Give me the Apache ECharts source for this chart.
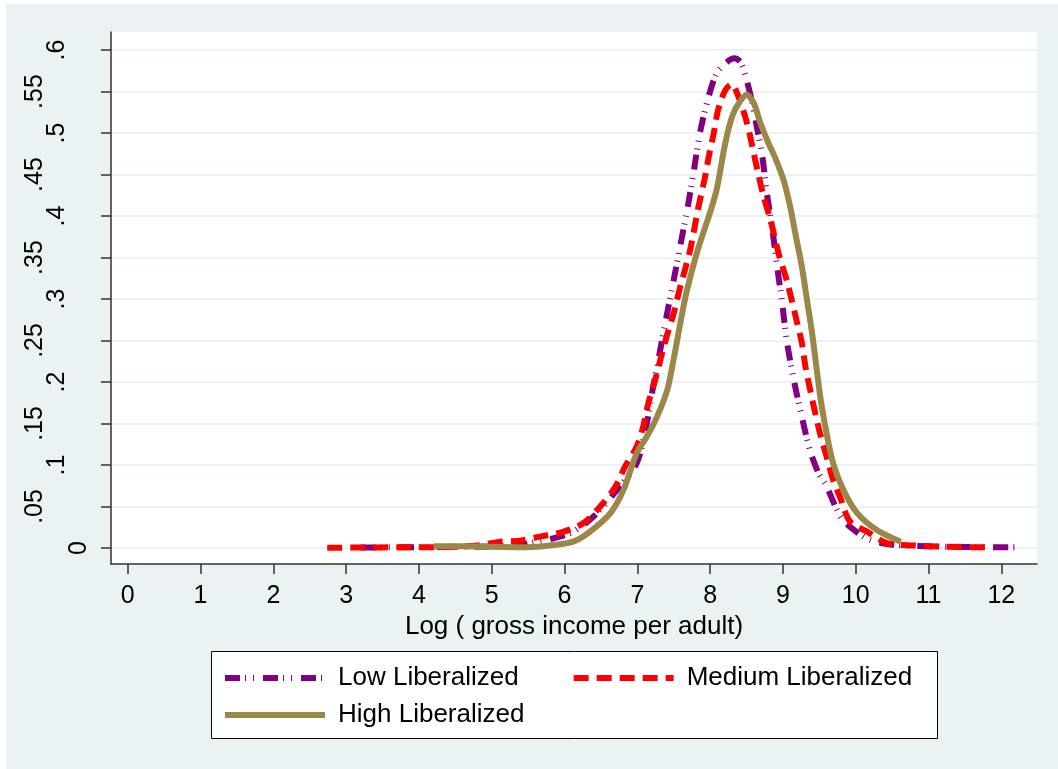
<!DOCTYPE html>
<html>
<head>
<meta charset="utf-8">
<script src="https://cdn.jsdelivr.net/npm/echarts@6/dist/echarts.min.js"></script>
<style>
  html, body { margin: 0; padding: 0; background: #fff; }
  #chart { position: absolute; left: 6px; top: 4px; width: 1052px; height: 765px; }
</style>
</head>
<body>
<div id="chart"></div>
<script>
// Low Liberalized (purple dash-dot)
const lowX = [3.2, 3.6, 4.0, 4.5, 5.0, 5.4, 5.85, 6.12, 6.40, 6.72, 6.99, 7.13, 7.20, 7.27, 7.41, 7.50, 7.57, 7.70, 7.77, 7.86, 7.98, 8.09, 8.21, 8.33, 8.42, 8.50, 8.57, 8.64, 8.71, 8.78, 8.85, 8.92, 8.99, 9.05, 9.15, 9.26, 9.37, 9.49, 9.60, 9.79, 9.97, 10.2, 10.5, 11.0, 11.5, 12.0, 12.26];
const lowY = [0.0005, 0.0008, 0.001, 0.0012, 0.002, 0.004, 0.0117, 0.0197, 0.038, 0.070, 0.102, 0.150, 0.186, 0.218, 0.283, 0.323, 0.355, 0.415, 0.451, 0.500, 0.544, 0.572, 0.584, 0.590, 0.585, 0.564, 0.540, 0.508, 0.476, 0.427, 0.387, 0.339, 0.295, 0.251, 0.202, 0.158, 0.118, 0.090, 0.074, 0.038, 0.022, 0.0096, 0.004, 0.002, 0.0012, 0.001, 0.001];

// Medium Liberalized (red dashes)
const medX = [2.74, 3.2, 3.7, 4.3, 4.8, 5.12, 5.39, 5.66, 5.99, 6.26, 6.49, 6.70, 6.83, 6.99, 7.08, 7.15, 7.25, 7.34, 7.41, 7.50, 7.59, 7.66, 7.73, 7.84, 7.93, 7.98, 8.05, 8.11, 8.21, 8.30, 8.37, 8.48, 8.55, 8.62, 8.73, 8.83, 8.94, 9.05, 9.12, 9.19, 9.26, 9.31, 9.37, 9.44, 9.51, 9.60, 9.69, 9.79, 9.92, 10.15, 10.43, 10.8, 11.2, 11.6, 11.9];
const medY = [0.0003, 0.0005, 0.0008, 0.001, 0.003, 0.0076, 0.0088, 0.0137, 0.0197, 0.030, 0.050, 0.074, 0.098, 0.122, 0.146, 0.174, 0.204, 0.235, 0.257, 0.283, 0.315, 0.337, 0.361, 0.411, 0.447, 0.471, 0.500, 0.528, 0.552, 0.559, 0.548, 0.520, 0.496, 0.467, 0.425, 0.395, 0.355, 0.323, 0.299, 0.273, 0.247, 0.218, 0.192, 0.164, 0.138, 0.110, 0.082, 0.060, 0.032, 0.020, 0.006, 0.003, 0.0015, 0.001, 0.0008];

// High Liberalized (solid olive)
const highX = [4.2, 4.6, 5.0, 5.49, 5.8, 6.12, 6.35, 6.63, 6.81, 6.99, 7.13, 7.27, 7.41, 7.50, 7.58, 7.66, 7.75, 7.84, 7.93, 8.02, 8.09, 8.14, 8.19, 8.25, 8.32, 8.41, 8.50, 8.60, 8.69, 8.80, 8.89, 9.01, 9.10, 9.17, 9.26, 9.33, 9.40, 9.46, 9.52, 9.60, 9.69, 9.83, 10.02, 10.29, 10.62];
const highY = [0.002, 0.002, 0.0015, 0.001, 0.003, 0.0076, 0.0197, 0.042, 0.070, 0.114, 0.134, 0.158, 0.190, 0.228, 0.266, 0.302, 0.334, 0.362, 0.386, 0.410, 0.432, 0.455, 0.480, 0.504, 0.524, 0.538, 0.546, 0.536, 0.512, 0.488, 0.471, 0.443, 0.411, 0.379, 0.339, 0.299, 0.259, 0.218, 0.178, 0.138, 0.102, 0.070, 0.042, 0.0217, 0.0076];

const xTicks = [0, 1, 2, 3, 4, 5, 6, 7, 8, 9, 10, 11, 12];
const yTicks = [0, 0.05, 0.1, 0.15, 0.2, 0.25, 0.3, 0.35, 0.4, 0.45, 0.5, 0.55, 0.6];
const yLabelsInner = [0.1, 0.2, 0.3, 0.4, 0.5, 0.6];
const yLabelsOuter = [0.05, 0.15, 0.25, 0.35, 0.45, 0.55];
const yLabelsZero = [0];

const FONT = '"Liberation Sans", Arial, sans-serif';
const BG = '#EAF2F3';

const pairs = (xs, ys) => xs.map((x, i) => [x, ys[i]]);
const fmtY = v => v === 0 ? '0' : v.toFixed(2).replace(/^0/, '').replace(/0$/, '');

const yBase = { type: 'value', position: 'left', min: -0.0193, max: 0.6217 };
const yLabelStyle = { rotate: 90, fontSize: 25, color: '#000', fontFamily: FONT, formatter: fmtY };

const legendBase = {
  left: 216, orient: 'horizontal', padding: 0,
  itemWidth: 100, itemHeight: 30, itemGap: 52, selectedMode: false,
  itemStyle: { opacity: 0, color: 'transparent', borderWidth: 0 },
  lineStyle: { width: 6 },
  textStyle: { fontSize: 26, color: '#000', fontFamily: FONT, lineHeight: 30, padding: [0, 0, 0, 8] }
};

const chart = echarts.init(document.getElementById('chart'), null, { renderer: 'canvas' });
chart.setOption({
  backgroundColor: BG,
  animation: false,
  grid: {
    left: 105, top: 28, right: 21, bottom: 205,
    show: true, backgroundColor: '#fff', borderWidth: 0,
    containLabel: false, outerBoundsMode: 'none'
  },
  xAxis: {
    type: 'value', min: -0.23, max: 12.49,
    axisLine: { show: true, onZero: false, lineStyle: { color: '#333', width: 1.5 } },
    axisTick: { show: true, length: 10, customValues: xTicks, lineStyle: { color: '#333', width: 1.5 } },
    axisLabel: { customValues: xTicks, margin: 20, fontSize: 25, color: '#000', fontFamily: FONT },
    splitLine: { show: false },
    name: 'Log ( gross income per adult)',
    nameLocation: 'middle', nameGap: 44,
    nameTextStyle: { fontSize: 26, color: '#000', fontFamily: FONT }
  },
  yAxis: [
    Object.assign({}, yBase, {
      axisLine: { show: true, onZero: false, lineStyle: { color: '#333', width: 1.5 } },
      axisTick: { show: true, length: 10, customValues: yTicks, lineStyle: { color: '#333', width: 1.5 } },
      axisLabel: Object.assign({ customValues: yLabelsInner, margin: 41 }, yLabelStyle),
      splitLine: { show: true, lineStyle: { color: BG, width: 2 } }
    }),
    Object.assign({}, yBase, {
      axisLine: { show: false }, axisTick: { show: false }, splitLine: { show: false },
      axisLabel: Object.assign({ customValues: yLabelsOuter, margin: 63 }, yLabelStyle)
    }),
    Object.assign({}, yBase, {
      axisLine: { show: false }, axisTick: { show: false }, splitLine: { show: false },
      axisLabel: Object.assign({ customValues: yLabelsZero, margin: 19 }, yLabelStyle)
    })
  ],
  legend: [
    Object.assign({}, legendBase, { data: ['Low Liberalized', 'Medium Liberalized'], top: 659 }),
    Object.assign({}, legendBase, { data: ['High Liberalized'], top: 696 })
  ],
  graphic: [{
    type: 'rect', left: 205, top: 647, z: -1,
    shape: { width: 726, height: 87 },
    style: { fill: '#fff', stroke: '#000', lineWidth: 1 }
  }],
  series: [
    {
      name: 'Low Liberalized', type: 'line', yAxisIndex: 0,
      data: pairs(lowX, lowY), symbol: 'none', smooth: 0.3,
      color: '#800080',
      lineStyle: { color: '#800080', width: 6, type: [15, 5, 1, 7, 1, 9], cap: 'butt' }
    },
    {
      name: 'Medium Liberalized', type: 'line', yAxisIndex: 0,
      data: pairs(medX, medY), symbol: 'none', smooth: 0.3,
      color: '#FF0000',
      lineStyle: { color: '#FF0000', width: 6, type: [15, 8], cap: 'butt' }
    },
    {
      name: 'High Liberalized', type: 'line', yAxisIndex: 0,
      data: pairs(highX, highY), symbol: 'none', smooth: 0.3,
      color: '#9B8747',
      lineStyle: { color: '#9B8747', width: 6, type: 'solid' }
    }
  ]
});
</script>
</body>
</html>
